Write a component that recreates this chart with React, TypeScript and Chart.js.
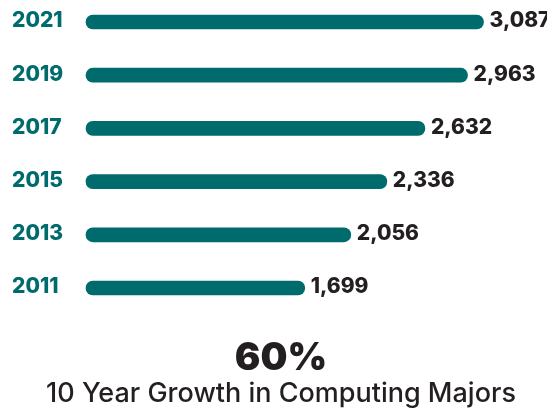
import React, { useEffect, useRef } from "react";
import { Chart, registerables } from "chart.js";

Chart.register(...registerables);

const years = ["2021", "2019", "2017", "2015", "2013", "2011"];
const majors = [3087, 2963, 2632, 2336, 2056, 1699];
const headline = "60%";
const caption = "10 Year Growth in Computing Majors";

const TEAL = "#006b6c";
const DARK = "#231f20";
const FONT = "Inter, 'Open Sans', sans-serif";

const valueLabels = {
  id: "valueLabels",
  afterDatasetsDraw(chart: any) {
    const ctx = chart.ctx;
    const meta = chart.getDatasetMeta(0);
    ctx.save();
    ctx.font = `800 21px ${FONT}`;
    ctx.fillStyle = DARK;
    ctx.textAlign = "left";
    ctx.textBaseline = "middle";
    meta.data.forEach((bar: any, i: number) => {
      const v = chart.data.datasets[0].data[i] as number;
      ctx.fillText(v.toLocaleString("en-US"), bar.x + 6, bar.y - 1);
    });
    ctx.restore();
  },
};

export default function App() {
  const ref = useRef<HTMLCanvasElement>(null);
  useEffect(() => {
    const chart = new Chart(ref.current!, {
      type: "bar",
      data: {
        labels: years,
        datasets: [
          {
            data: majors,
            backgroundColor: TEAL,
            borderRadius: 7,
            borderSkipped: false,
            barThickness: 14,
            clip: false as any,
          },
        ],
      },
      options: {
        indexAxis: "y",
        animation: false,
        responsive: false,
        layout: { padding: { left: 12, right: -3, top: 22, bottom: 0 } },
        scales: {
          x: { display: false, min: 0, max: 3580 },
          y: {
            offset: false,
            grid: { display: false },
            border: { display: false },
            ticks: {
              crossAlign: "far",
              padding: 0,
              labelOffset: -1,
              color: TEAL,
              font: { family: FONT, size: 21, weight: 800 as any },
            },
            afterFit(scale: any) {
              scale.width = 74;
            },
          },
        },
        plugins: {
          legend: { display: false },
          tooltip: { enabled: false },
          subtitle: {
            display: true,
            position: "bottom",
            text: headline,
            color: DARK,
            font: { family: FONT, size: 38, weight: 900 as any, lineHeight: 1 },
            padding: { top: 51.3, bottom: 0 },
          },
          title: {
            display: true,
            position: "bottom",
            text: caption,
            color: DARK,
            font: { family: FONT, size: 27, weight: 500 as any, lineHeight: 0.9 },
            padding: { top: 4.85, bottom: 1.55 },
          },
        },
      },
      plugins: [valueLabels],
    });
    return () => chart.destroy();
  }, []);
  return (
    <div style={{ position: "absolute", left: 0, top: 0, width: 547, height: 408, background: "#fff" }}>
      <canvas ref={ref} width={547} height={408} />
    </div>
  );
}
